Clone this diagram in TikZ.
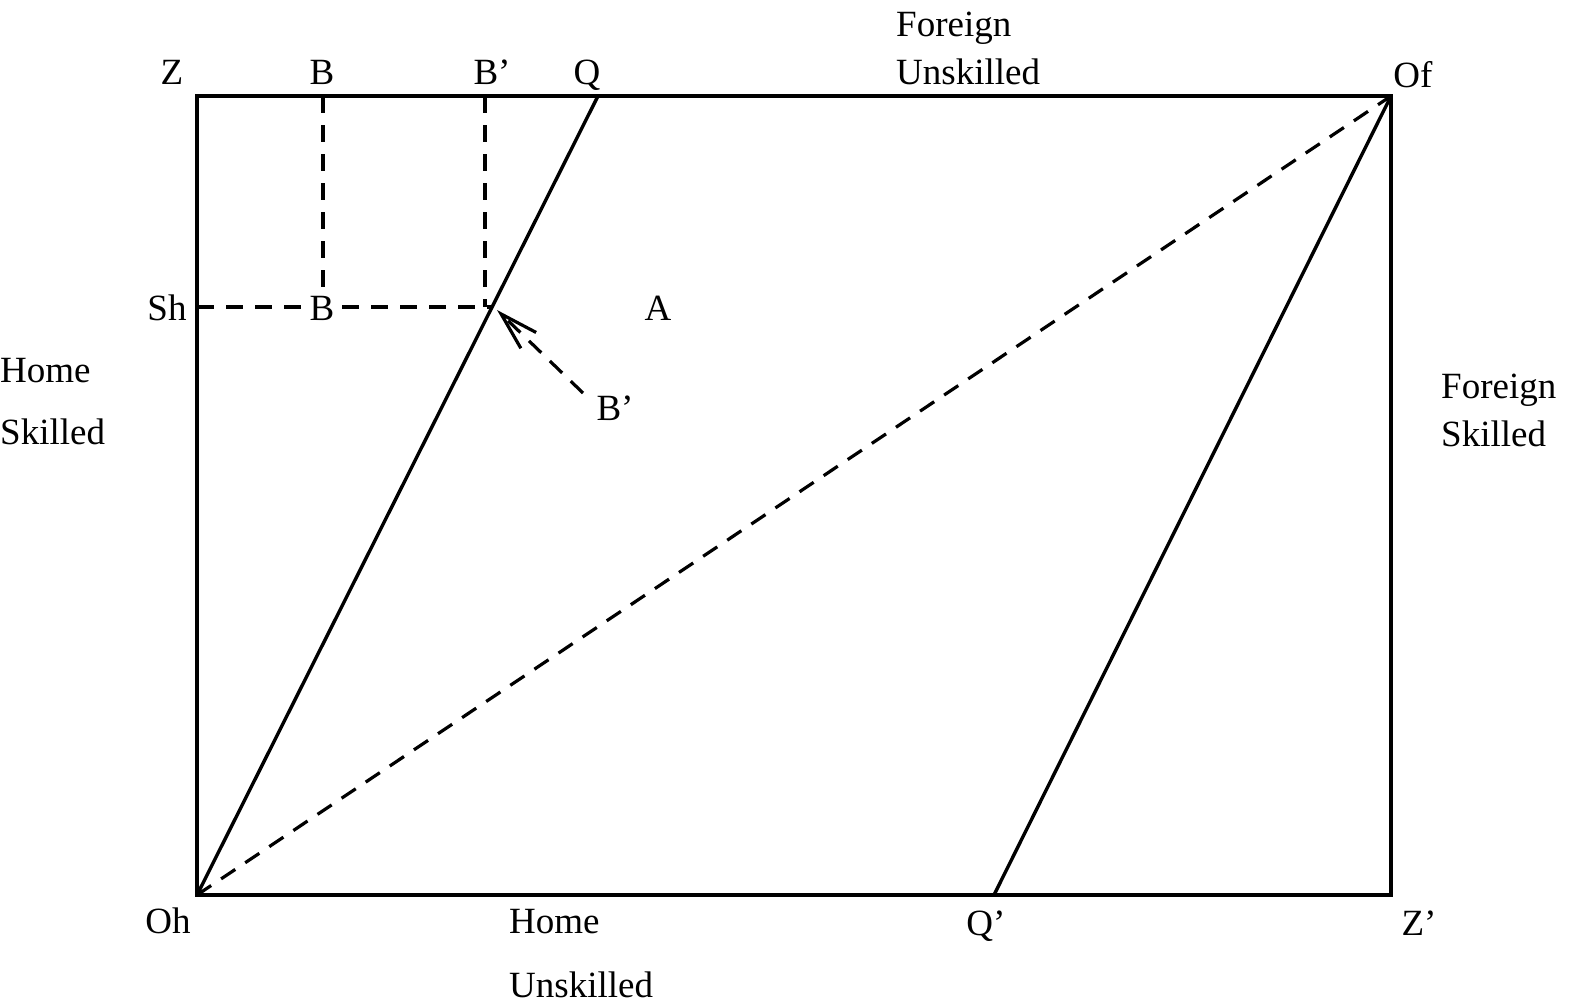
\documentclass[tikz,border=0pt]{standalone}
\usepackage{fontspec}
\setmainfont{Liberation Serif}
\usetikzlibrary{arrows.meta}
\begin{document}
\begin{tikzpicture}[x=1pt,y=-1pt,
  solidline/.style={line width=3.4pt},
  dashline/.style={line width=3.2pt,dash pattern=on 17pt off 12pt},
  lbl/.style={inner sep=0pt,anchor=base,font=\fontsize{37}{44}\selectfont},
  lblw/.style={lbl,anchor=base west}]
\useasboundingbox (0,0) rectangle (1572,1004);
% corners and points
\coordinate (Z) at (197,96);
\coordinate (Of) at (1391,96);
\coordinate (Oh) at (197,895);
\coordinate (Zp) at (1391,895);
\coordinate (Q) at (598,96);
\coordinate (Qp) at (994,895);
\coordinate (Bt) at (323,96);
\coordinate (Bpt) at (485,96);
\coordinate (Sh) at (197,307);
\coordinate (X) at (491,307);
\coordinate (Bpv) at (485,307);
\coordinate (Bv) at (323,290);
\coordinate (arrS) at (583,393);
\coordinate (arrT) at (497,310);
% box
\draw[solidline,line join=miter] (Z) -- (Of) -- (Zp) -- (Oh) -- cycle;
% solid lines
\draw[solidline] (Oh) -- (Q);
\draw[solidline] (Qp) -- (Of);
% dashed
\draw[dashline] (Oh) -- (Of);
\draw[dashline] (Bt) -- (Bv);
\draw[dashline] (Bpt) -- (Bpv);
\draw[dashline] (Sh) -- (X);
% labels
\node[lbl] (lZ) at (172,84) {Z};
\node[lbl] (lB) at (322,84) {B};
\node[lbl] (lBp) at (492,84) {B’};
\node[lbl] (lQ) at (587,84) {Q};
\node[lblw] (lFor) at (896,36) {Foreign};
\node[lblw] (lUns) at (896,84) {Unskilled};
\node[lbl] (lOf) at (1413,87) {Of};
\node[lbl] (lSh) at (167,320) {Sh};
\node[lbl,fill=white,inner xsep=5pt] (lB2) at (322,320) {B};
\node[lbl] (lA) at (658,320) {A};
\node[lbl] (lBp2) at (615,420) {B’};
\node[lblw] (lHome) at (0,382) {Home};
\node[lblw] (lSk) at (0,444) {Skilled};
\node[lblw] (lFor2) at (1441,398) {Foreign};
\node[lblw] (lSk2) at (1441,446) {Skilled};
\node[lbl] (lOh) at (168,933) {Oh};
\node[lblw] (lHome2) at (509,933) {Home};
\node[lblw] (lUns2) at (509,997) {Unskilled};
\node[lbl] (lQp) at (986,935) {Q’};
\node[lbl] (lZp) at (1419,935) {Z’};
% arrow
\draw[dashline,-{Straight Barb[length=38pt,width=22pt,line width=3.2pt]}] (arrS) -- (arrT);
\end{tikzpicture}
\end{document}
